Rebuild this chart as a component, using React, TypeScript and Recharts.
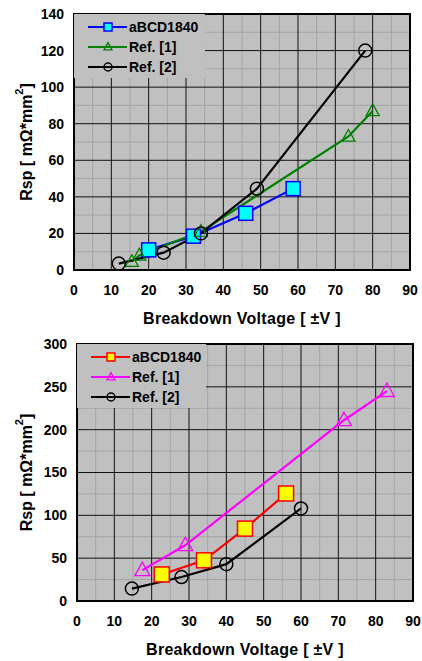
import {
  LineChart,
  Line,
  XAxis,
  YAxis,
  CartesianGrid,
  Legend,
  ReferenceArea,
} from "recharts";

const FONT = "'Liberation Sans', Arial, sans-serif";

// x axis (both charts)
const xTicks = [0, 10, 20, 30, 40, 50, 60, 70, 80, 90];
const xMinor = [5, 15, 25, 35, 45, 55, 65, 75, 85];

// upper chart
const topYTicks = [0, 20, 40, 60, 80, 100, 120, 140];
const topYMinor = [10, 30, 50, 70, 90, 110, 130];
const topAbcdX = [20, 32, 46, 58.7];
const topAbcdY = [11, 18.5, 31, 44.5];
const topRef1X = [15.5, 17.5, 34, 73.5, 80];
const topRef1Y = [4.5, 8, 21, 73, 87];
const topRef2X = [12, 24, 34, 49, 78];
const topRef2Y = [3.5, 9.5, 20, 44.5, 120];

// lower chart
const botYTicks = [0, 50, 100, 150, 200, 250, 300];
const botYMinor = [25, 75, 125, 175, 225, 275];
const botAbcdX = [22.7, 34, 45, 56];
const botAbcdY = [31, 47.5, 84.5, 125.5];
const botRef1X = [17.5, 29, 71.5, 83];
const botRef1Y = [36, 65, 211, 245];
const botRef2X = [14.7, 28, 40, 60];
const botRef2Y = [14.5, 28, 43, 108];

const seriesNames = ["aBCD1840", "Ref. [1]", "Ref. [2]"];

const zip = (xs: number[], ys: number[]) => xs.map((x, i) => ({ x, y: ys[i] }));

type Shape = "square" | "triangle" | "circle";

function Marker({ shape, cx, cy, size, stroke, fill }: any) {
  if (shape === "square") {
    return (
      <rect x={cx - size / 2} y={cy - size / 2} width={size} height={size}
        stroke={stroke} strokeWidth={1.5} fill={fill} />
    );
  }
  if (shape === "triangle") {
    const h = size * 0.9;
    const pts = `${cx},${cy - h * 0.6} ${cx - size / 2},${cy + h * 0.4} ${cx + size / 2},${cy + h * 0.4}`;
    return <polygon points={pts} stroke={stroke} strokeWidth={1.3} fill={fill} />;
  }
  return <circle cx={cx} cy={cy} r={size / 2} stroke={stroke} strokeWidth={1.5} fill={fill} />;
}

interface SeriesDef {
  name: string;
  data: { x: number; y: number }[];
  color: string;
  shape: Shape;
  fill: string;
  size: number;
}

function LegendBox({ items, width }: { items: SeriesDef[]; width: number }) {
  return (
    <div style={{ background: "#c0c0c0", width, height: 64, paddingTop: 3, boxSizing: "border-box" }}>
      {items.map((it) => (
        <div key={it.name} style={{ display: "flex", alignItems: "center", height: 20 }}>
          <svg width={55} height={14} style={{ display: "block" }}>
            <line x1={14} x2={53} y1={7} y2={7} stroke={it.color} strokeWidth={2} />
            <Marker shape={it.shape} cx={34} cy={7} size={8} stroke={it.color} fill={it.fill} />
          </svg>
          <span style={{ fontFamily: FONT, fontWeight: "bold", fontSize: 14, color: "#000" }}>{it.name}</span>
        </div>
      ))}
    </div>
  );
}

function Panel({ series, yTicks, yMinor, yAxisWidth, rightMargin, height, legendWidth }: any) {
  const yMax = yTicks[yTicks.length - 1];
  const tickStyle = { fill: "#000", fontSize: 14, fontWeight: "bold", fontFamily: FONT };
  return (
    <LineChart width={422} height={height} margin={{ top: 14, right: rightMargin, left: 0, bottom: 0 }}>
      <CartesianGrid fill="#c0c0c0" stroke="#a4a4a4" strokeWidth={1}
        horizontalValues={yMinor} verticalValues={xMinor} />
      <CartesianGrid stroke="#111" strokeWidth={1} fillOpacity={0} />
      <XAxis type="number" dataKey="x" domain={[0, 90]} ticks={xTicks} allowDataOverflow
        height={60} tickSize={0} tickMargin={15} axisLine={false} tick={tickStyle}
        label={(p: any) => {
          const vb = p.viewBox;
          return (
            <text x={vb.x + vb.width / 2} y={vb.y + 48} textAnchor="middle" dominantBaseline="central"
              fontFamily={FONT} fontWeight="bold" fontSize={16} letterSpacing={0.3} fill="#000">
              Breakdown Voltage [ ±V ]
            </text>
          );
        }} />
      <YAxis type="number" dataKey="y" domain={[0, yMax]} ticks={yTicks} allowDataOverflow
        width={yAxisWidth} tickSize={0} tickMargin={10} axisLine={false} tick={tickStyle}
        label={(p: any) => {
          const vb = p.viewBox;
          const cx = vb.x + 26;
          const cy = vb.y + vb.height / 2;
          return (
            <text x={cx} y={cy} textAnchor="middle" dominantBaseline="central"
              transform={`rotate(-90, ${cx}, ${cy})`}
              fontFamily={FONT} fontWeight="bold" fontSize={16} fill="#000">
              Rsp [ mΩ*mm<tspan dy={-7} fontSize={11}>2</tspan><tspan dy={7}>]</tspan>
            </text>
          );
        }} />
      {series.map((s: SeriesDef) => (
        <Line key={s.name} data={s.data} dataKey="y" name={s.name} type="linear"
          stroke={s.color} strokeWidth={2.2} isAnimationActive={false}
          dot={(p: any) => (
            <Marker key={`${s.name}-${p.index}`} shape={s.shape} cx={p.cx} cy={p.cy}
              size={s.size} stroke={s.color} fill={s.fill} />
          )}
          activeDot={false} />
      ))}
      <ReferenceArea x1={0} x2={90} y1={0} y2={yMax} fill="none" stroke="#000" strokeWidth={2} />
      <Legend layout="vertical" align="center" verticalAlign="middle"
        wrapperStyle={{ left: yAxisWidth, top: 14, width: legendWidth, height: 64 }}
        content={() => <LegendBox items={series} width={legendWidth} />} />
    </LineChart>
  );
}

export default function App() {
  const topSeries: SeriesDef[] = [
    { name: seriesNames[0], data: zip(topAbcdX, topAbcdY), color: "#0000ff", shape: "square", fill: "#00ffff", size: 14 },
    { name: seriesNames[1], data: zip(topRef1X, topRef1Y), color: "#008000", shape: "triangle", fill: "none", size: 13 },
    { name: seriesNames[2], data: zip(topRef2X, topRef2Y), color: "#000000", shape: "circle", fill: "none", size: 13 },
  ];
  const botSeries: SeriesDef[] = [
    { name: seriesNames[0], data: zip(botAbcdX, botAbcdY), color: "#ff0000", shape: "square", fill: "#ffff00", size: 15 },
    { name: seriesNames[1], data: zip(botRef1X, botRef1Y), color: "#ff00ff", shape: "triangle", fill: "none", size: 15 },
    { name: seriesNames[2], data: zip(botRef2X, botRef2Y), color: "#000000", shape: "circle", fill: "none", size: 13 },
  ];

  return (
    <div style={{ position: "absolute", left: 0, top: 0, width: 422, height: 661, background: "#fff" }}>
      <Panel series={topSeries} yTicks={topYTicks} yMinor={topYMinor}
        yAxisWidth={74} rightMargin={12} height={330} legendWidth={131} />
      <Panel series={botSeries} yTicks={botYTicks} yMinor={botYMinor}
        yAxisWidth={77} rightMargin={9} height={331} legendWidth={129} />
    </div>
  );
}
